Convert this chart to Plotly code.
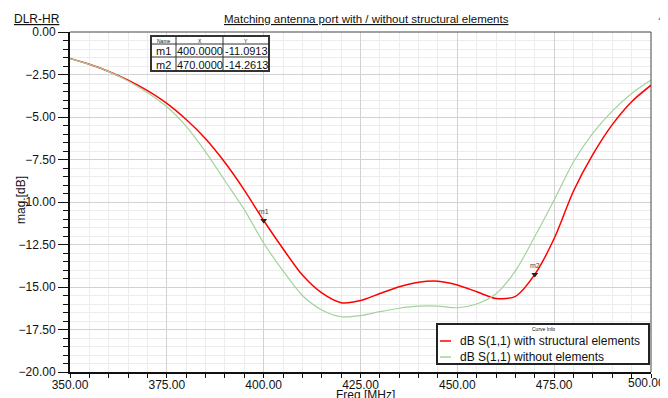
import plotly.graph_objects as go

freq = [350, 355, 360, 365, 370, 375, 380, 385, 390, 395, 400, 405, 410, 415, 420,
        425, 430, 435, 440, 445, 450, 455, 460, 465, 470, 475, 480, 485, 490, 495, 500]
s11_with = [-1.56, -1.90, -2.32, -2.83, -3.45, -4.20, -5.15, -6.28, -7.68, -9.30, -11.09,
            -12.75, -14.30, -15.35, -15.92, -15.80, -15.38, -14.98, -14.72, -14.66, -14.88,
            -15.28, -15.68, -15.55, -14.26, -12.15, -9.35, -7.20, -5.45, -4.10, -3.13]
s11_without = [-1.56, -1.90, -2.33, -2.88, -3.58, -4.40, -5.55, -7.05, -8.75, -10.45, -12.42,
               -14.05, -15.50, -16.35, -16.75, -16.68, -16.45, -16.25, -16.13, -16.12, -16.22,
               -16.00, -15.40, -14.05, -12.03, -9.88, -7.63, -5.95, -4.65, -3.62, -2.83]
series_names = ["dB S(1,1) with structural elements", "dB S(1,1) without elements"]
series_colors = ["#ff0000", "#a3d39c"]
marker_names = ["m1", "m2"]
marker_x = [400.0, 470.0]
marker_y = [-11.0913, -14.2613]
x_ticks = [350, 375, 400, 425, 450, 475, 500]

FONT = "Liberation Sans, Arial, sans-serif"
OFF = 8  # page body margin
W, H = 668 - OFF, 398 - OFF
L, T = 70 - OFF, 32 - OFF
R = W - (651 - OFF)
B = round(H - (372.4 - OFF))
PW, PH = W - L - R, H - T - B


def px(x):
    # x given in screen pixels
    return (x - OFF - L) / PW


def py(y):
    return (H - B - (y - OFF)) / PH


fig = go.Figure()
fig.add_trace(go.Scatter(x=freq, y=s11_with, mode="lines", name=series_names[0],
                         showlegend=False,
                         line=dict(color=series_colors[0], width=1.5, shape="spline", smoothing=0.8)))
fig.add_trace(go.Scatter(x=freq, y=s11_without, mode="lines", name=series_names[1],
                         showlegend=False,
                         line=dict(color=series_colors[1], width=1.2, shape="spline", smoothing=0.8)))
fig.add_trace(go.Scatter(x=marker_x, y=marker_y, mode="markers+text", showlegend=False,
                         text=marker_names, textposition="top center",
                         textfont=dict(size=7, color="#444", family=FONT),
                         marker=dict(symbol="triangle-down", size=6, color="#222")))

shapes = []
annotations = []

# frame top / right
shapes.append(dict(type="line", xref="paper", yref="paper", x0=0, x1=1, y0=1, y1=1,
                   line=dict(color="#444", width=1)))
shapes.append(dict(type="line", xref="paper", yref="paper", x0=1, x1=1, y0=0, y1=1,
                   line=dict(color="#444", width=1)))

# marker table
tx = [151, 176, 223, 269]
ty = [36, 44, 57, 71]
shapes.append(dict(type="rect", xref="paper", yref="paper",
                   x0=px(tx[0]), x1=px(tx[3]), y0=py(ty[3]), y1=py(ty[0]),
                   line=dict(color="#333", width=2), fillcolor="white", layer="above"))
for xv in tx[1:3]:
    shapes.append(dict(type="line", xref="paper", yref="paper",
                       x0=px(xv), x1=px(xv), y0=py(ty[3]), y1=py(ty[0]),
                       line=dict(color="#333", width=1), layer="above"))
for yv in ty[1:3]:
    shapes.append(dict(type="line", xref="paper", yref="paper",
                       x0=px(tx[0]), x1=px(tx[3]), y0=py(yv), y1=py(yv),
                       line=dict(color="#333", width=1), layer="above"))


def text_at(text, x, y, size, xanchor="center", color="#111", angle=0):
    annotations.append(dict(text=text, xref="paper", yref="paper", x=px(x), y=py(y),
                            showarrow=False, xanchor=xanchor, yanchor="middle",
                            textangle=angle,
                            font=dict(size=size, color=color, family=FONT)))


text_at("Name", (tx[0] + tx[1]) / 2, (ty[0] + ty[1]) / 2 + 0.5, 5)
text_at("X", (tx[1] + tx[2]) / 2, (ty[0] + ty[1]) / 2 + 0.5, 5)
text_at("Y", (tx[2] + tx[3]) / 2, (ty[0] + ty[1]) / 2 + 0.5, 5)
rows_y = [(ty[1] + ty[2]) / 2 + 0.5, (ty[2] + ty[3]) / 2 + 0.5]
for i in range(2):
    text_at(marker_names[i], (tx[0] + tx[1]) / 2, rows_y[i], 11)
    text_at(f"{marker_x[i]:.4f}", (tx[1] + tx[2]) / 2, rows_y[i], 11)
    text_at(f"{marker_y[i]:.4f}", (tx[2] + tx[3]) / 2, rows_y[i], 11)

# legend box ("Curve Info")
lx0, lx1, ly0, ly1 = 437, 649, 324, 364
shapes.append(dict(type="rect", xref="paper", yref="paper",
                   x0=px(lx0), x1=px(lx1), y0=py(ly1), y1=py(ly0),
                   line=dict(color="#222", width=2), fillcolor="white", layer="above"))
text_at("Curve Info", (lx0 + lx1) / 2, 329, 5)
leg_rows = [341, 357]
for i in range(2):
    shapes.append(dict(type="line", xref="paper", yref="paper",
                       x0=px(440), x1=px(451), y0=py(leg_rows[i]), y1=py(leg_rows[i]),
                       line=dict(color=series_colors[i], width=1.5), layer="above"))
    text_at(series_names[i], 458, leg_rows[i], 12, xanchor="left")

# last x tick label (would be hidden by plotly at the page edge)
text_at(f"{x_ticks[-1]:.2f}", 667, 383, 12, xanchor="right")

# titles
text_at("<u>DLR-HR</u>", 12, 19, 12, xanchor="left")
text_at("<u>Matching antenna port with / without structural elements</u>", 366, 19, 11.5)
text_at("▲", 660, 18, 7, color="#e06060")
text_at("mag.[dB]", 21, 200, 12, angle=-90)
text_at("Freq [MHz]", 365, 395, 12)

fig.update_layout(
    width=W, height=H,
    margin=dict(l=L, r=R, t=T, b=B),
    paper_bgcolor="white", plot_bgcolor="white",
    font=dict(family=FONT, size=12, color="#111"),
    showlegend=False,
    xaxis=dict(range=[350, 500], tickvals=x_ticks, tickformat=".2f",
               automargin=False, ticklabelstandoff=-3,
               showgrid=True, gridcolor="#d2d2d2", gridwidth=1,
               minor=dict(dtick=5, tick0=350, showgrid=True, gridcolor="#ececec", ticks="outside",
                          ticklen=4, tickcolor="#111"),
               ticks="outside", ticklen=4, tickcolor="#111",
               showline=True, linecolor="#111", linewidth=2,
               zeroline=False, tickfont=dict(size=12)),
    yaxis=dict(range=[-20, 0], dtick=2.5, tick0=0, tickformat=".2f",
               automargin=False,
               showgrid=True, gridcolor="#d2d2d2", gridwidth=1,
               minor=dict(dtick=0.5, showgrid=True, gridcolor="#ececec", ticks="outside",
                          ticklen=5, tickcolor="#111"),
               ticks="outside", ticklen=10, tickcolor="#111",
               showline=True, linecolor="#111", linewidth=2,
               zeroline=False, tickfont=dict(size=12)),
    shapes=shapes,
    annotations=annotations,
)

fig.write_html("out.html")
